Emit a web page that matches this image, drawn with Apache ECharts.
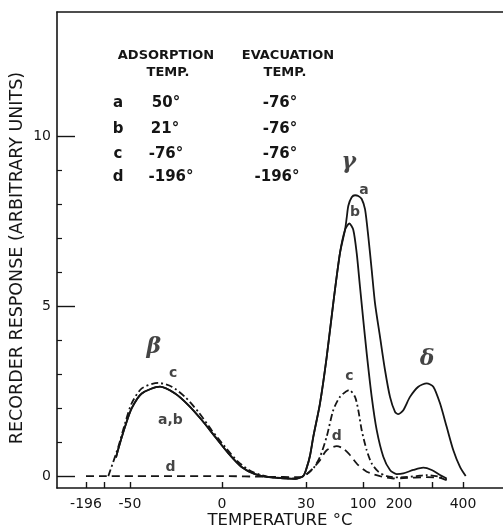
<!DOCTYPE html>
<html>
<head>
<meta charset="UTF-8">
<title>Recorder response vs temperature</title>
<script src="https://cdn.jsdelivr.net/npm/echarts@6.0.0/dist/echarts.min.js"></script>
<style>
  html, body { margin: 0; padding: 0; background: #fff; }
  #chart { width: 503px; height: 529px; }
</style>
</head>
<body>
<div id="chart"></div>
<script>
// temperature axis is not linear: ticks sit at these scale positions
var tickTemps  = [-196, -76, -50, 0, 30, 100, 200, 300, 400];
var tickScale  = [29, 47, 73, 165, 249, 306, 342, 375, 406];
var tickLabels = ['-196', '', '-50', '0', '30', '100', '200', '', '400'];

var yMajor = [0, 5, 10];
var yMinor = [1, 2, 3, 4, 6, 7, 8, 9];

// [temperature °C, response]
var abBeta = [[-64, 0.55], [-61.7, 0.8], [-55, 1.45], [-49.1, 1.99], [-43.6, 2.43], [-33.7, 2.63],
  [-25.5, 2.43], [-18.3, 2.09], [-11, 1.65], [-3.8, 1.16], [2.3, 0.67], [7, 0.27], [11.8, 0.06],
  [17.7, -0.04], [26.1, -0.08], [29, 0]];
var abRise = [[30.9, 0.25], [34.9, 0.6], [39, 1.16], [47.2, 2.14], [55.4, 3.5], [63.5, 5.09],
  [71.7, 6.56], [77.9, 7.24]];
var aGamma = [[80, 7.6], [82, 7.95], [86.1, 8.2], [90.2, 8.26], [94.2, 8.24], [98.4, 8.15],
  [105.6, 7.85], [114.8, 7.04], [124.2, 6.06], [133.3, 5.09], [147.2, 4.1], [161.1, 3.12],
  [175, 2.33], [188.9, 1.89], [198, 1.82], [213, 1.94], [233.3, 2.33], [258.5, 2.63],
  [283.9, 2.73], [304.2, 2.63], [325.8, 2.14], [347.3, 1.45], [368.8, 0.76], [390.3, 0.27],
  [408.7, 0]];
var bGamma = [[83.2, 7.43], [88.1, 7.24], [92.3, 6.55], [96.3, 5.57], [100.8, 4.59], [110.3, 3.61],
  [124.2, 2.33], [138.1, 1.35], [156.4, 0.57], [175, 0.18], [193.6, 0.06], [213, 0.08],
  [243.4, 0.18], [273.7, 0.25], [299, 0.18], [325.8, 0.03], [347.3, -0.07]];
var cCurve = [[-71.7, 0], [-61.7, 0.86], [-55, 1.55], [-49.1, 2.14], [-43.6, 2.58], [-34.6, 2.74],
  [-27.3, 2.63], [-20.1, 2.33], [-12.9, 1.89], [-5.6, 1.35], [1.1, 0.86], [5.8, 0.42],
  [10.6, 0.13], [16.5, -0.02], [26.1, -0.07], [29, 0], [30.9, 0.05], [39, 0.23], [47.2, 0.57],
  [55.4, 1.16], [63.5, 1.94], [71.7, 2.33], [83.2, 2.53], [90.2, 2.33], [94.2, 1.94],
  [98.4, 1.35], [110.3, 0.76], [124.2, 0.37], [142.5, 0.13], [165.8, 0], [203, -0.04],
  [253.6, 0], [283.9, 0.03], [325.8, -0.02], [347.3, -0.1]];
var dCurve = [[-196, 0], [-76, 0], [0, 0], [16, -0.02], [28, -0.03], [30.9, 0.06], [39, 0.24],
  [47.2, 0.47], [55.4, 0.76], [67.7, 0.88], [75.8, 0.81], [84, 0.62], [94.2, 0.32],
  [110.3, 0.13], [147.2, 0], [184.2, -0.07], [213, -0.06], [283.9, -0.03], [325.8, -0.05],
  [347.3, -0.12]];

// curve labels: text, temperature, response
var noteText = ['a', 'b', 'c', 'd', 'c', 'a,b', 'd'];
var noteTemp = [102.8, 90.2, 83.2, 67.7, -26.5, -28, -28];
var noteVal  = [8.41, 7.77, 2.92, 1.16, 3.02, 1.65, 0.25];
var greekText = ['β', 'γ', 'δ'];
var greekTemp = [-37, 82.6, 284.8];
var greekVal  = [3.79, 9.24, 3.44];

// table in the upper left
var tableRows = [
  ['a', '50°', '-76°'],
  ['b', '21°', '-76°'],
  ['c', '-76°', '-76°'],
  ['d', '-196°', '-196°']
];

function toScale(t) {
  var n = tickTemps.length, i = 0;
  if (t <= tickTemps[0]) i = 0;
  else if (t >= tickTemps[n - 1]) i = n - 2;
  else while (t > tickTemps[i + 1]) i++;
  var f = (t - tickTemps[i]) / (tickTemps[i + 1] - tickTemps[i]);
  return tickScale[i] + f * (tickScale[i + 1] - tickScale[i]);
}
function conv(arr) {
  return arr.map(function (p) { return [toScale(p[0]), p[1]]; });
}

var ink = '#151515';
var chart = echarts.init(document.getElementById('chart'));

var labelPos = [];
tickLabels.forEach(function (l, i) { if (l) labelPos.push(tickScale[i]); });

function txt(text, x, y, font, extra) {
  var o = {
    type: 'text', x: x, y: y, silent: true,
    style: { text: text, font: font, fill: ink, textAlign: 'center', textVerticalAlign: 'middle',
      align: 'center', verticalAlign: 'middle' }
  };
  if (extra) for (var k in extra) o[k] = extra[k];
  return o;
}

var graphics = [
  txt('ADSORPTION', 166, 56, 'bold 13px "DejaVu Sans"'),
  txt('TEMP.', 168, 73, 'bold 13px "DejaVu Sans"'),
  txt('EVACUATION', 288, 56, 'bold 13px "DejaVu Sans"'),
  txt('TEMP.', 285, 73, 'bold 13px "DejaVu Sans"'),
  txt('RECORDER RESPONSE (ARBITRARY UNITS)', 17, 258, '17.5px "DejaVu Sans"', { rotation: Math.PI / 2 }),
  txt('TEMPERATURE °C', 280, 521, '16.5px "DejaVu Sans"')
];
var rowY = [103, 129, 154, 177];
var adsX = [166, 165, 166, 171];
var evaX = [280, 280, 280, 277];
tableRows.forEach(function (r, i) {
  graphics.push(txt(r[0], 118, rowY[i], 'bold 15px "DejaVu Sans"'));
  graphics.push(txt(r[1], adsX[i], rowY[i], 'bold 15px "DejaVu Sans"'));
  graphics.push(txt(r[2], evaX[i], rowY[i], 'bold 15px "DejaVu Sans"'));
});

function lineSeries(name, data, type) {
  return {
    name: name, type: 'line', data: conv(data), showSymbol: false, symbol: 'none',
    smooth: 0.25, silent: true,
    lineStyle: { color: ink, width: 1.8, type: type || 'solid' }
  };
}

var notes = noteText.map(function (t, i) {
  return { value: [toScale(noteTemp[i]), noteVal[i]], label: { formatter: t } };
});
var greeks = greekText.map(function (t, i) {
  return { value: [toScale(greekTemp[i]), greekVal[i]], label: { formatter: t } };
});

var gridBox = { left: 57, right: 0, top: 12, bottom: 41 };
var yMin = -0.35, yMax = 13.65;

var option = {
  animation: false,
  backgroundColor: '#fff',
  // second grid only carries the short minor ticks on the left axis
  grid: [gridBox, Object.assign({}, gridBox)],
  xAxis: [{
    type: 'value', min: 0, max: 446, position: 'bottom',
    axisLine: { show: true, onZero: false, lineStyle: { color: ink, width: 1.6 } },
    axisTick: { show: true, inside: true, length: 6, customValues: tickScale, lineStyle: { color: ink, width: 1.4 } },
    axisLabel: {
      customValues: labelPos, margin: 9, color: ink, fontSize: 14, fontFamily: 'DejaVu Sans',
      formatter: function (v) {
        var i = tickScale.indexOf(v);
        return i >= 0 ? tickLabels[i] : '';
      }
    },
    splitLine: { show: false }
  }, {
    type: 'value', position: 'top', min: 0, max: 446,
    axisLine: { show: true, onZero: false, lineStyle: { color: ink, width: 1.6 } },
    axisTick: { show: false }, axisLabel: { show: false }, splitLine: { show: false }
  }, {
    type: 'value', gridIndex: 1, min: 0, max: 446, show: false
  }],
  yAxis: [{
    type: 'value', min: yMin, max: yMax, position: 'left',
    axisLine: { show: true, onZero: false, lineStyle: { color: ink, width: 1.6 } },
    axisTick: { show: true, inside: true, length: 18, customValues: yMajor, lineStyle: { color: ink, width: 1.4 } },
    axisLabel: { customValues: yMajor, margin: 6, color: ink, fontSize: 14, fontFamily: 'DejaVu Sans' },
    splitLine: { show: false }
  }, {
    type: 'value', gridIndex: 1, position: 'left', min: yMin, max: yMax,
    axisLine: { show: false, onZero: false },
    axisTick: { show: true, inside: true, length: 5, customValues: yMinor, lineStyle: { color: ink, width: 1.2 } },
    axisLabel: { show: false }, splitLine: { show: false }
  }],
  series: [
    lineSeries('a', abBeta.concat(abRise, aGamma)),
    lineSeries('b', abBeta.concat(abRise, bGamma)),
    lineSeries('c', cCurve, [7, 3, 2, 3]),
    lineSeries('d', dCurve, [8, 5]),
    {
      type: 'scatter', data: notes, symbolSize: 1, silent: true,
      itemStyle: { color: 'rgba(0,0,0,0)' },
      label: { show: true, position: 'inside', color: ink, fontSize: 14, fontWeight: 'bold', fontFamily: 'DejaVu Sans' }
    },
    {
      type: 'scatter', data: greeks, symbolSize: 1, silent: true,
      itemStyle: { color: 'rgba(0,0,0,0)' },
      label: { show: true, position: 'inside', color: ink, fontSize: 22, fontStyle: 'italic', fontWeight: 'bold', fontFamily: 'DejaVu Serif' }
    }
  ],
  graphic: graphics
};
chart.setOption(option);
</script>
</body>
</html>
